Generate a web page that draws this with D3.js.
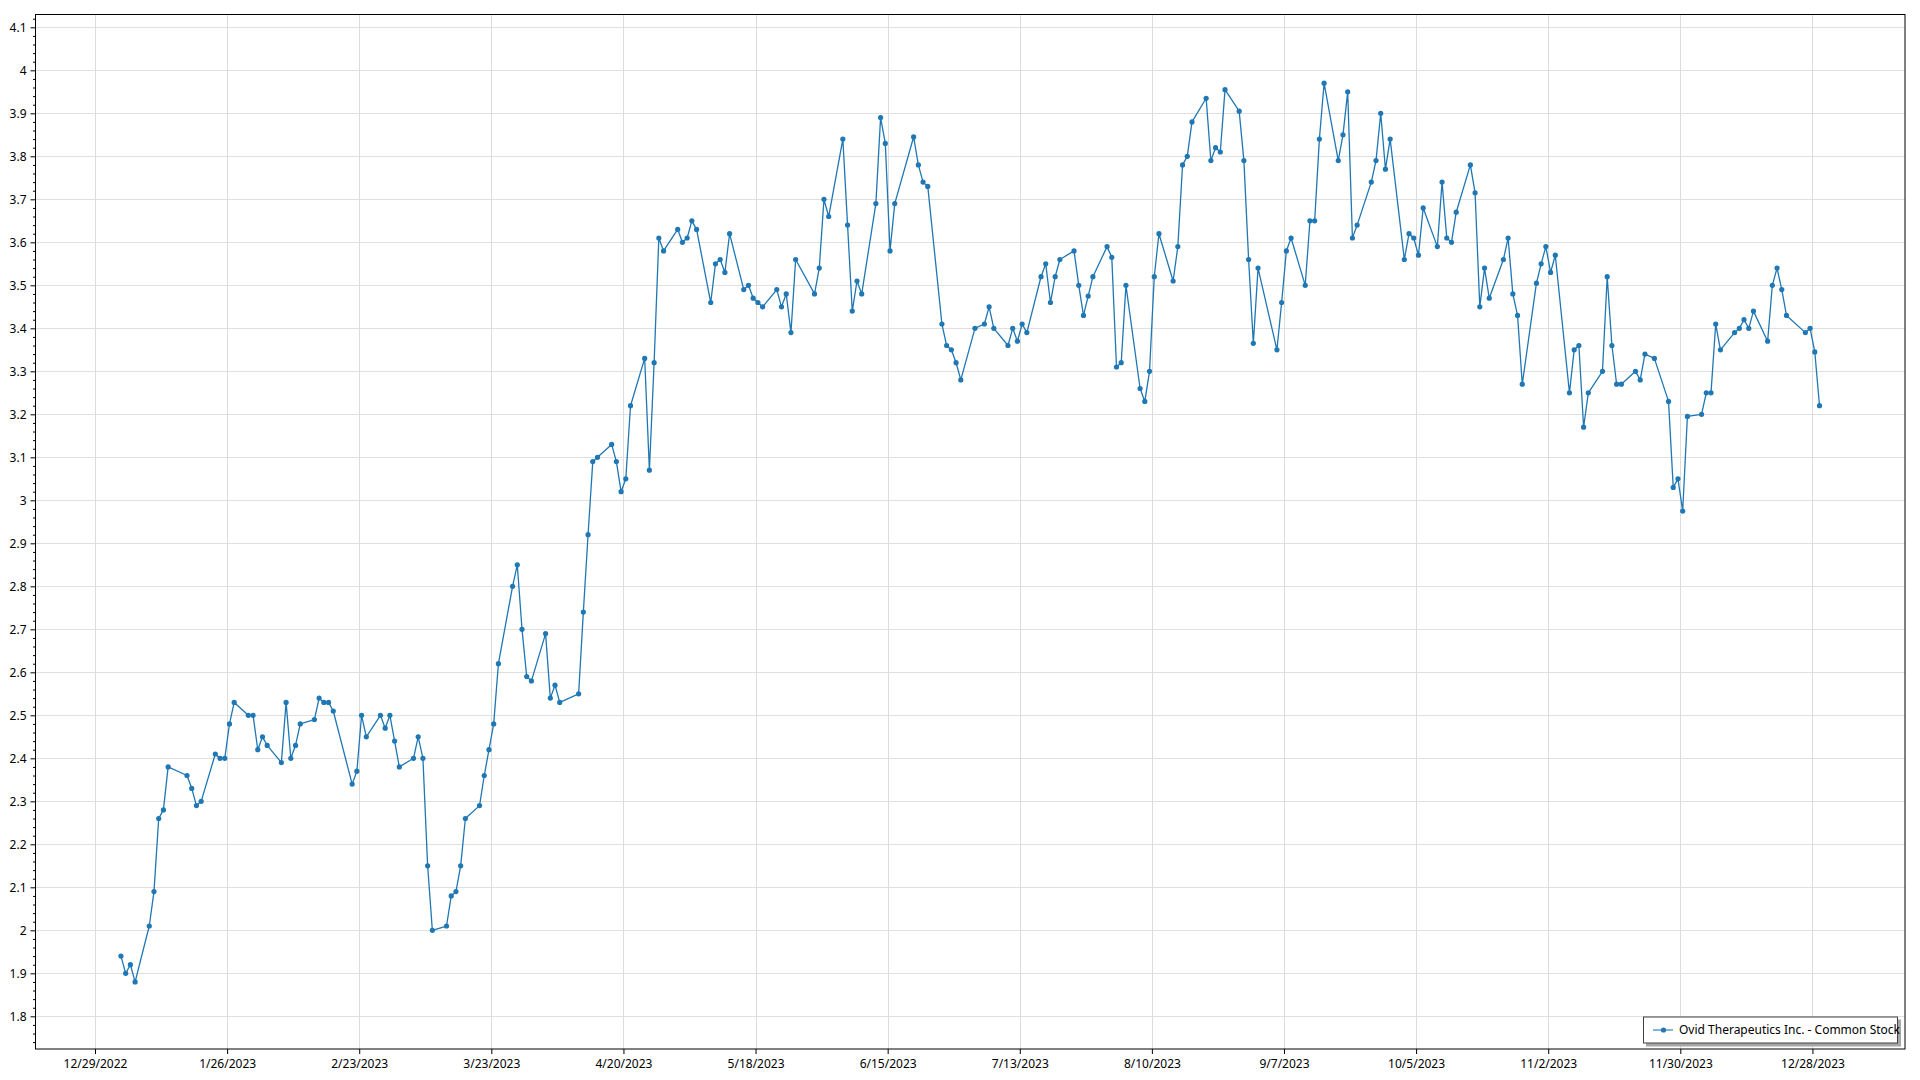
<!DOCTYPE html>
<html><head><meta charset="utf-8">
<script src="https://cdn.jsdelivr.net/npm/d3@7"></script>
<style>
html,body{margin:0;padding:0;background:#fff;}
svg{display:block;}
text{font-family:"Segoe UI","Noto Sans","Open Sans",sans-serif;font-size:12px;fill:#000;}
</style></head><body>
<svg id="chart" width="1920" height="1080"></svg>
<script>
const seriesName = "Ovid Therapeutics Inc. - Common Stock";

const dates = [
"2023-01-03","2023-01-04","2023-01-05","2023-01-06","2023-01-09","2023-01-10","2023-01-11","2023-01-12","2023-01-13","2023-01-17","2023-01-18","2023-01-19","2023-01-20","2023-01-23","2023-01-24","2023-01-25","2023-01-26","2023-01-27","2023-01-30","2023-01-31",
"2023-02-01","2023-02-02","2023-02-03","2023-02-06","2023-02-07","2023-02-08","2023-02-09","2023-02-10","2023-02-13","2023-02-14","2023-02-15","2023-02-16","2023-02-17","2023-02-21","2023-02-22","2023-02-23","2023-02-24","2023-02-27","2023-02-28",
"2023-03-01","2023-03-02","2023-03-03","2023-03-06","2023-03-07","2023-03-08","2023-03-09","2023-03-10","2023-03-13","2023-03-14","2023-03-15","2023-03-16","2023-03-17","2023-03-20","2023-03-21","2023-03-22","2023-03-23","2023-03-24","2023-03-27","2023-03-28","2023-03-29","2023-03-30","2023-03-31",
"2023-04-03","2023-04-04","2023-04-05","2023-04-06","2023-04-10","2023-04-11","2023-04-12","2023-04-13","2023-04-14","2023-04-17","2023-04-18","2023-04-19","2023-04-20","2023-04-21","2023-04-24","2023-04-25","2023-04-26","2023-04-27","2023-04-28",
"2023-05-01","2023-05-02","2023-05-03","2023-05-04","2023-05-05","2023-05-08","2023-05-09","2023-05-10","2023-05-11","2023-05-12","2023-05-15","2023-05-16","2023-05-17","2023-05-18","2023-05-19","2023-05-22","2023-05-23","2023-05-24","2023-05-25","2023-05-26","2023-05-30","2023-05-31",
"2023-06-01","2023-06-02","2023-06-05","2023-06-06","2023-06-07","2023-06-08","2023-06-09","2023-06-12","2023-06-13","2023-06-14","2023-06-15","2023-06-16","2023-06-20","2023-06-21","2023-06-22","2023-06-23","2023-06-26","2023-06-27","2023-06-28","2023-06-29","2023-06-30",
"2023-07-03","2023-07-05","2023-07-06","2023-07-07","2023-07-10","2023-07-11","2023-07-12","2023-07-13","2023-07-14","2023-07-17","2023-07-18","2023-07-19","2023-07-20","2023-07-21","2023-07-24","2023-07-25","2023-07-26","2023-07-27","2023-07-28","2023-07-31",
"2023-08-01","2023-08-02","2023-08-03","2023-08-04","2023-08-07","2023-08-08","2023-08-09","2023-08-10","2023-08-11","2023-08-14","2023-08-15","2023-08-16","2023-08-17","2023-08-18","2023-08-21","2023-08-22","2023-08-23","2023-08-24","2023-08-25","2023-08-28","2023-08-29","2023-08-30","2023-08-31",
"2023-09-01","2023-09-05","2023-09-06","2023-09-07","2023-09-08","2023-09-11","2023-09-12","2023-09-13","2023-09-14","2023-09-15","2023-09-18","2023-09-19","2023-09-20","2023-09-21","2023-09-22","2023-09-25","2023-09-26","2023-09-27","2023-09-28","2023-09-29",
"2023-10-02","2023-10-03","2023-10-04","2023-10-05","2023-10-06","2023-10-09","2023-10-10","2023-10-11","2023-10-12","2023-10-13","2023-10-16","2023-10-17","2023-10-18","2023-10-19","2023-10-20","2023-10-23","2023-10-24","2023-10-25","2023-10-26","2023-10-27","2023-10-30","2023-10-31",
"2023-11-01","2023-11-02","2023-11-03","2023-11-06","2023-11-07","2023-11-08","2023-11-09","2023-11-10","2023-11-13","2023-11-14","2023-11-15","2023-11-16","2023-11-17","2023-11-20","2023-11-21","2023-11-22","2023-11-24","2023-11-27","2023-11-28","2023-11-29","2023-11-30",
"2023-12-01","2023-12-04","2023-12-05","2023-12-06","2023-12-07","2023-12-08","2023-12-11","2023-12-12","2023-12-13","2023-12-14","2023-12-15","2023-12-18","2023-12-19","2023-12-20","2023-12-21","2023-12-22","2023-12-26","2023-12-27","2023-12-28","2023-12-29"
];

const closes = [
1.94,1.90,1.92,1.88,2.01,2.09,2.26,2.28,2.38,2.36,2.33,2.29,2.30,2.41,2.40,2.40,2.48,2.53,2.50,2.50,
2.42,2.45,2.43,2.39,2.53,2.40,2.43,2.48,2.49,2.54,2.53,2.53,2.51,2.34,2.37,2.50,2.45,2.50,2.47,
2.50,2.44,2.38,2.40,2.45,2.40,2.15,2.00,2.01,2.08,2.09,2.15,2.26,2.29,2.36,2.42,2.48,2.62,2.80,2.85,2.70,2.59,2.58,
2.69,2.54,2.57,2.53,2.55,2.74,2.92,3.09,3.10,3.13,3.09,3.02,3.05,3.22,3.33,3.07,3.32,3.61,3.58,
3.63,3.60,3.61,3.65,3.63,3.46,3.55,3.56,3.53,3.62,3.49,3.50,3.47,3.46,3.45,3.49,3.45,3.48,3.39,3.56,3.48,3.54,
3.70,3.66,3.84,3.64,3.44,3.51,3.48,3.69,3.89,3.83,3.58,3.69,3.845,3.78,3.74,3.73,3.41,3.36,3.35,3.32,3.28,
3.40,3.41,3.45,3.40,3.36,3.40,3.37,3.41,3.39,3.52,3.55,3.46,3.52,3.56,3.58,3.50,3.43,3.475,3.52,3.59,
3.565,3.31,3.32,3.50,3.26,3.23,3.30,3.52,3.62,3.51,3.59,3.78,3.80,3.88,3.935,3.79,3.82,3.81,3.955,3.905,3.79,3.56,3.365,
3.54,3.35,3.46,3.58,3.61,3.50,3.65,3.65,3.84,3.97,3.79,3.85,3.95,3.61,3.64,3.74,3.79,3.90,3.77,3.84,
3.56,3.62,3.61,3.57,3.68,3.59,3.74,3.61,3.60,3.67,3.78,3.715,3.45,3.54,3.47,3.56,3.61,3.48,3.43,3.27,3.505,3.55,
3.59,3.53,3.57,3.25,3.35,3.36,3.17,3.25,3.30,3.52,3.36,3.27,3.27,3.30,3.28,3.34,3.33,3.23,3.03,3.05,2.975,
3.195,3.20,3.25,3.25,3.41,3.35,3.39,3.40,3.42,3.40,3.44,3.37,3.50,3.54,3.49,3.43,3.39,3.40,3.345,3.22
];

const xTickLabels = ["12/29/2022","1/26/2023","2/23/2023","3/23/2023","4/20/2023","5/18/2023","6/15/2023","7/13/2023","8/10/2023","9/7/2023","10/5/2023","11/2/2023","11/30/2023","12/28/2023"];
const yTicks = [1.8,1.9,2,2.1,2.2,2.3,2.4,2.5,2.6,2.7,2.8,2.9,3,3.1,3.2,3.3,3.4,3.5,3.6,3.7,3.8,3.9,4,4.1];

const color = "#1f77b4";
const plot = {left: 35.5, right: 1905, top: 14.5, bottom: 1049};

const svg = d3.select("#chart");
const parseISO = d3.timeParse("%Y-%m-%d %H");
const parseTick = d3.timeParse("%m/%d/%Y");

const data = dates.map((d, i) => ({date: parseISO(d + " 12"), value: closes[i]}));
const tickDates = xTickLabels.map(s => parseTick(s));

const x = d3.scaleTime()
  .domain([new Date(2022, 11, 16, 9, 20), new Date(2024, 0, 16, 14, 50)])
  .range([plot.left, plot.right]);
const y = d3.scaleLinear()
  .domain([1.724, 4.1298])
  .range([plot.bottom, plot.top]);

// gridlines
const grid = svg.append("g").attr("class", "grid");
grid.selectAll("line.h").data(yTicks).join("line")
  .attr("x1", plot.left).attr("x2", plot.right)
  .attr("y1", d => Math.round(y(d)) + 0.5).attr("y2", d => Math.round(y(d)) + 0.5)
  .attr("stroke", "#e0e0e0").attr("stroke-width", 1);
grid.selectAll("line.v").data(tickDates).join("line")
  .attr("y1", plot.top).attr("y2", plot.bottom)
  .attr("x1", d => Math.round(x(d)) + 0.5).attr("x2", d => Math.round(x(d)) + 0.5)
  .attr("stroke", "#dcdcdc").attr("stroke-width", 1);

// frame
svg.append("rect")
  .attr("x", plot.left).attr("y", plot.top)
  .attr("width", plot.right - plot.left).attr("height", plot.bottom - plot.top)
  .attr("fill", "none").attr("stroke", "#000").attr("stroke-width", 1);

// y axis
const yAxis = svg.append("g").attr("transform", `translate(${plot.left},0)`)
  .call(d3.axisLeft(y).tickValues(yTicks).tickSize(5).tickPadding(4).tickFormat(d => String(d)));
yAxis.select(".domain").remove();
yAxis.selectAll("text").style("font-size", "12px").attr("fill", "#000");

const minorY = d3.range(1.74, 4.13, 0.02).filter(v => Math.abs(v * 10 - Math.round(v * 10)) > 1e-6);
const yMinor = svg.append("g").attr("transform", `translate(${plot.left},0)`)
  .call(d3.axisLeft(y).tickValues(minorY).tickSize(2.5).tickFormat(""));
yMinor.select(".domain").remove();

// x axis
const xAxis = svg.append("g").attr("transform", `translate(0,${plot.bottom})`)
  .call(d3.axisBottom(x).tickValues(tickDates).tickSize(5).tickPadding(5)
    .tickFormat((d, i) => xTickLabels[i]));
xAxis.select(".domain").remove();
xAxis.selectAll("text").style("font-size", "12px").attr("fill", "#000");

// series
const line = d3.line().x(d => x(d.date)).y(d => y(d.value));
svg.append("path").datum(data)
  .attr("d", line).attr("fill", "none")
  .attr("stroke", color).attr("stroke-width", 1.3).attr("stroke-linejoin", "round");
svg.append("g").selectAll("circle").data(data).join("circle")
  .attr("cx", d => x(d.date)).attr("cy", d => y(d.value))
  .attr("r", 2.6).attr("fill", color);

// legend
const lg = svg.append("g").attr("transform", "translate(1643,1016.5)");
lg.append("rect").attr("x", 3).attr("y", 3).attr("width", 255).attr("height", 27).attr("fill", "#a6a6a6");
lg.append("rect").attr("x", 0.5).attr("y", 0.5).attr("width", 254).attr("height", 26)
  .attr("fill", "#fff").attr("stroke", "#404040").attr("stroke-width", 1);
lg.append("line").attr("x1", 10).attr("x2", 30).attr("y1", 13.5).attr("y2", 13.5)
  .attr("stroke", "#5b9bd0").attr("stroke-width", 1.5);
lg.append("circle").attr("cx", 20.5).attr("cy", 13.5).attr("r", 2.6).attr("fill", color);
lg.append("text").attr("x", 36).attr("y", 13.5).attr("dy", "0.35em").text(seriesName);
</script>
</body></html>
